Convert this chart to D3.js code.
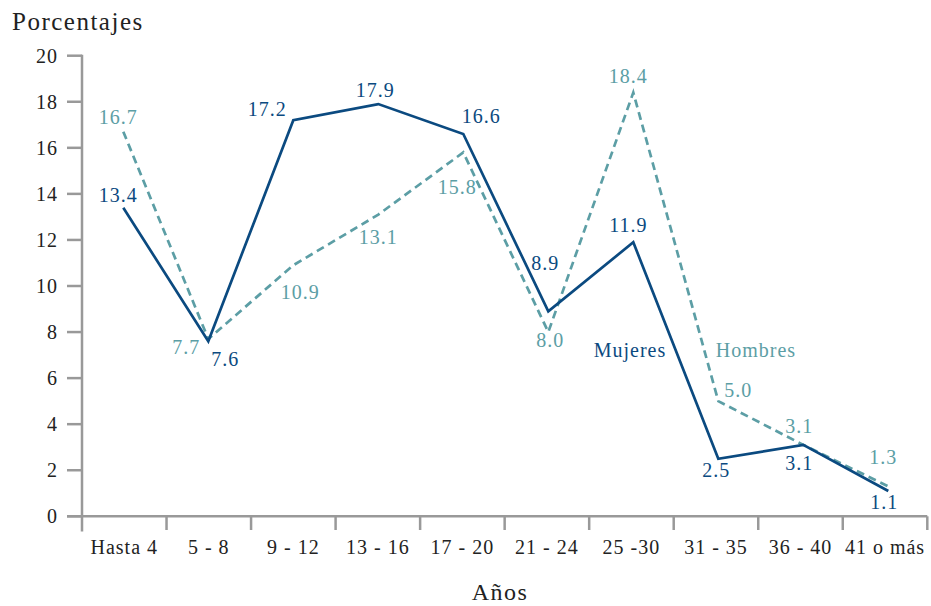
<!DOCTYPE html>
<html><head><meta charset="utf-8">
<script src="https://cdn.jsdelivr.net/npm/d3@7"></script>
<style>
body{margin:0;background:#fff;}
</style></head>
<body><svg id="c" width="931" height="606"></svg>
<script>
const categories = ["Hasta 4","5 - 8","9 - 12","13 - 16","17 - 20","21 - 24","25 -30","31 - 35","36 - 40","41 o más"];
const mujeres = [13.4,7.6,17.2,17.9,16.6,8.9,11.9,2.5,3.1,1.1];
const hombres = [16.7,7.7,10.9,13.1,15.8,8.0,18.4,5.0,3.1,1.3];
const yTicks = [0,2,4,6,8,10,12,14,16,18,20];
// label offsets [dx,dy] from each point to the label baseline (layout only)
const mujOff = [[-5,-6],[17,25],[-26,-4],[-3,-7],[18,-11],[-3,-41],[-5,-10],[-2,18],[-4,25],[-4,18]];
const homOff = [[-5,-8],[-22,15],[7,34],[0,29],[-6,42],[2,15],[-5,-10],[20,-4],[-4,-12],[-5,-22]];

// pick an installed serif font
const candidates = ["Liberation Serif","DejaVu Serif","Noto Serif","Times New Roman","Times","FreeSerif","Tinos","Georgia"];
const cv = document.createElement("canvas").getContext("2d");
function w(f){ cv.font = "40px " + f; return cv.measureText("Hasta 4 mmmwwwiiilll 0123").width; }
let chosen = null;
for (const c of candidates) {
  if (w("'" + c + "', monospace") !== w("monospace") || w("'" + c + "', sans-serif") !== w("sans-serif")) { chosen = c; break; }
}
const FONT = chosen ? "'" + chosen + "', serif" : "serif";

const svg = d3.select("#c").attr("font-family", FONT);
const colM = "#0b4a80", colH = "#5c9ea5", axisCol = "#999999", txt = "#222222";
const x = d3.scalePoint().domain(categories).range([123.3, 888.3]);
const xb = d3.scaleBand().domain(categories).range([82, 927.3]);
const y = d3.scaleLinear().domain([0,20]).range([516.3, 55.7]);

const ax = svg.append("g").attr("stroke", axisCol).attr("stroke-width", 2.5).attr("fill","none");
ax.append("line").attr("x1",82).attr("x2",82).attr("y1",y(20)-1).attr("y2",531.5);
ax.append("line").attr("x1",67).attr("x2",927.3).attr("y1",y(0)).attr("y2",y(0));
yTicks.forEach(t=>{
  ax.append("line").attr("x1",67).attr("x2",82).attr("y1",y(t)).attr("y2",y(t));
});
categories.forEach((c,i)=>{
  const xx = xb(c) + xb.bandwidth();
  ax.append("line").attr("x1",xx).attr("x2",xx).attr("y1",y(0)).attr("y2",530);
});
svg.append("g").selectAll("text").data(yTicks).join("text")
  .attr("x",58).attr("y",d=>y(d)+7).attr("text-anchor","end").attr("font-family",FONT)
  .attr("font-size",20).attr("letter-spacing",1).attr("fill",txt).text(d=>d);
svg.append("g").selectAll("text").data(categories).join("text")
  .attr("x",d=>xb(d)+xb.bandwidth()/2).attr("y",554).attr("text-anchor","middle").attr("font-family",FONT)
  .attr("font-size",20).attr("letter-spacing",1).attr("fill",txt).text(d=>d);

svg.append("text").attr("x",12).attr("y",30).attr("font-family",FONT).attr("font-size",25).attr("letter-spacing",1.5).attr("fill",txt).text("Porcentajes");
svg.append("text").attr("x",500).attr("y",600).attr("text-anchor","middle").attr("font-family",FONT).attr("font-size",24).attr("letter-spacing",1.5).attr("fill",txt).text("Años");

const line = d3.line().x((d,i)=>x(categories[i])).y(d=>y(d));
svg.append("path").attr("d",line(hombres)).attr("fill","none").attr("stroke",colH)
  .attr("stroke-width",2.7).attr("stroke-dasharray","8,5");
svg.append("path").attr("d",line(mujeres)).attr("fill","none").attr("stroke",colM)
  .attr("stroke-width",2.7).attr("stroke-linejoin","miter");

svg.append("g").selectAll("text").data(mujeres).join("text")
  .attr("x",(d,i)=>x(categories[i])+mujOff[i][0]).attr("y",(d,i)=>y(d)+mujOff[i][1])
  .attr("text-anchor","middle").attr("font-family",FONT).attr("font-size",20).attr("letter-spacing",1).attr("fill",colM)
  .text(d=>d.toFixed(1));
svg.append("g").selectAll("text").data(hombres).join("text")
  .attr("x",(d,i)=>x(categories[i])+homOff[i][0]).attr("y",(d,i)=>y(d)+homOff[i][1])
  .attr("text-anchor","middle").attr("font-family",FONT).attr("font-size",20).attr("letter-spacing",1).attr("fill",colH)
  .text(d=>d.toFixed(1));

svg.append("text").attr("x",630).attr("y",357).attr("text-anchor","middle").attr("font-family",FONT).attr("font-size",20).attr("letter-spacing",1).attr("fill",colM).text("Mujeres");
svg.append("text").attr("x",756).attr("y",357).attr("text-anchor","middle").attr("font-family",FONT).attr("font-size",20).attr("letter-spacing",1).attr("fill",colH).text("Hombres");
</script></body></html>
